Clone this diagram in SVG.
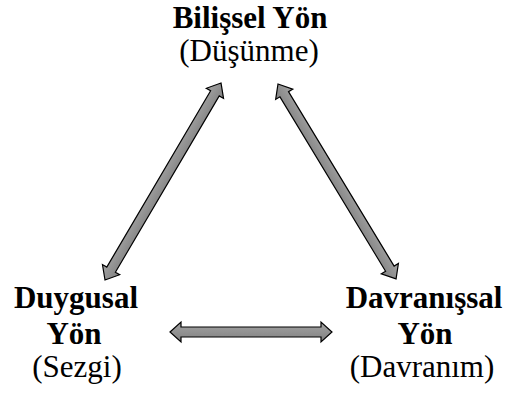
<svg xmlns="http://www.w3.org/2000/svg" width="508" height="396" viewBox="0 0 508 396">
  <defs>
    <linearGradient id="shaftFill" x1="0" y1="0" x2="0" y2="1">
      <stop offset="0" stop-color="#a4a4a4"/>
      <stop offset="1" stop-color="#808080"/>
    </linearGradient>
  </defs>
  <style>
    .lbl { font-family: "Liberation Serif", "Times New Roman", serif; font-size: 31px; fill: #000; text-anchor: middle; }
    .b { font-weight: bold; }
    .arrow { fill: url(#shaftFill); stroke: #000; stroke-width: 1.2; stroke-linejoin: miter; }
  </style>

  <g id="node-bilissel">
    <text class="lbl b" x="250" y="28">Bilişsel Yön</text>
    <text class="lbl" x="249" y="61">(Düşünme)</text>
  </g>

  <g id="node-duygusal">
    <text class="lbl b" x="76" y="308">Duygusal</text>
    <text class="lbl b" x="74" y="344">Yön</text>
    <text class="lbl" x="77" y="377">(Sezgi)</text>
  </g>

  <g id="node-davranissal">
    <text class="lbl b" x="424" y="308">Davranışsal</text>
    <text class="lbl b" x="425" y="344">Yön</text>
    <text class="lbl" x="422" y="377">(Davranım)</text>
  </g>

  <g id="connectors">
    <!-- Duygusal <-> Bilişsel -->
    <polygon class="arrow" transform="translate(105 280) rotate(-59.5)"
      points="0,0 12,-10 12,-5 216.6,-5 216.6,-10 228.6,0 216.6,10 216.6,5 12,5 12,10"/>
    <!-- Bilişsel <-> Davranışsal -->
    <polygon class="arrow" transform="translate(278 84) rotate(58.8)"
      points="0,0 12,-10 12,-5 215.9,-5 215.9,-10 227.9,0 215.9,10 215.9,5 12,5 12,10"/>
    <!-- Duygusal <-> Davranışsal -->
    <polygon class="arrow" transform="translate(170 332)"
      points="0,0 11,-10 11,-5 151,-5 151,-10 162,0 151,10 151,5 11,5 11,10"/>
  </g>
</svg>
